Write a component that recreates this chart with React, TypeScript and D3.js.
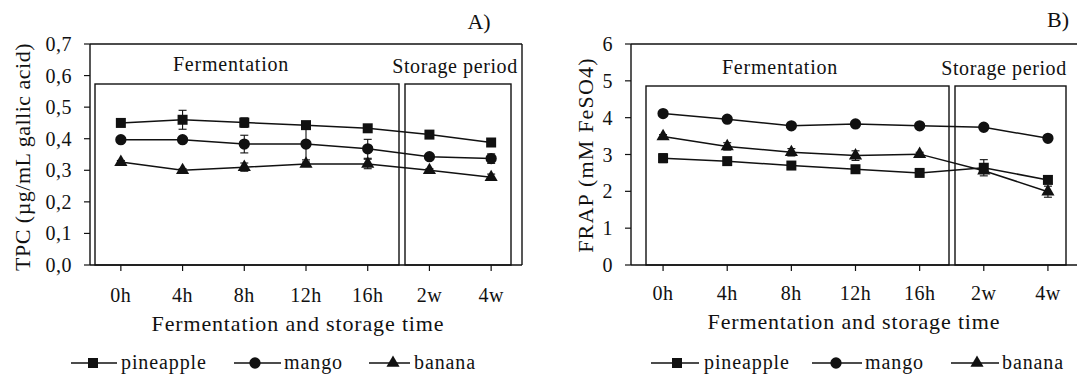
import React from "react";
import * as d3 from "d3";

// time points shared by both panels
const times = ["0h", "4h", "8h", "12h", "16h", "2w", "4w"];

// A) total phenolic content
const tpcPineapple = [0.45, 0.46, 0.451, 0.443, 0.433, 0.413, 0.388];
const tpcPineappleErr = [0.006, 0.03, 0.015, 0.01, 0.01, 0.006, 0.006];
const tpcMango = [0.397, 0.397, 0.383, 0.383, 0.368, 0.343, 0.337];
const tpcMangoErr = [0.005, 0.006, 0.028, 0.05, 0.03, 0.008, 0.015];
const tpcBanana = [0.326, 0.3, 0.31, 0.32, 0.32, 0.3, 0.278];
const tpcBananaErr = [0.005, 0.005, 0.013, 0.006, 0.015, 0.005, 0.01];
const tpcTicks = [0, 0.1, 0.2, 0.3, 0.4, 0.5, 0.6, 0.7];

// B) FRAP
const frapPineapple = [2.9, 2.82, 2.7, 2.6, 2.5, 2.64, 2.31];
const frapPineappleErr = [0.12, 0.05, 0.05, 0.05, 0.04, 0.22, 0.06];
const frapMango = [4.11, 3.96, 3.78, 3.83, 3.78, 3.74, 3.44];
const frapMangoErr = [0.04, 0.05, 0.05, 0.05, 0.04, 0.06, 0.05];
const frapBanana = [3.49, 3.22, 3.06, 2.97, 3.01, 2.56, 1.99];
const frapBananaErr = [0.05, 0.1, 0.1, 0.13, 0.05, 0.06, 0.15];
const frapTicks = [0, 1, 2, 3, 4, 5, 6];

const fruitNames = ["pineapple", "mango", "banana"];
const symbols = [d3.symbolSquare, d3.symbolCircle, d3.symbolTriangle];
const symbolSizes = [100, 100, 75];

const FONT = "Liberation Serif";
const INK = "#111";
const TOP = 44;
const BOTTOM = 265;

function Panel({ L, yMax, ticks, fmt, yLabel, tag, values, errors }) {
  const x = d3.scalePoint<string>().domain(times).range([L.x0, L.x1]).padding(0.5);
  const y = d3.scaleLinear().domain([0, yMax]).range([BOTTOM, TOP]);
  const line = d3
    .line<number>()
    .x((d, i) => x(times[i]) as number)
    .y(d => y(d));

  return (
    <g style={{ fontFamily: FONT }} fill={INK}>
      {/* frame */}
      <line x1={L.x0} x2={L.x1} y1={TOP} y2={TOP} stroke={INK} strokeWidth={1.4} />
      <line x1={L.x1} x2={L.x1} y1={TOP} y2={BOTTOM} stroke={INK} strokeWidth={1.4} />

      {/* period boxes */}
      <rect x={L.ferm[0]} y={L.boxTop} width={L.ferm[1] - L.ferm[0]} height={BOTTOM - L.boxTop}
        fill="none" stroke={INK} strokeWidth={1.4} />
      <rect x={L.stor[0]} y={L.boxTop} width={L.stor[1] - L.stor[0]} height={BOTTOM - L.boxTop}
        fill="none" stroke={INK} strokeWidth={1.4} />
      <text x={L.fermLabel[0]} y={L.fermLabel[1]} fontSize={20} letterSpacing={0.8} textAnchor="middle">Fermentation</text>
      <text x={L.storLabel[0]} y={L.storLabel[1]} fontSize={20} letterSpacing={0.6} textAnchor="middle">Storage period</text>
      <text x={L.tag[0]} y={L.tag[1]} fontSize={22} textAnchor="middle">{tag}</text>

      {/* y axis */}
      <line x1={L.x0} x2={L.x0} y1={TOP} y2={BOTTOM} stroke={INK} strokeWidth={1.4} />
      {ticks.map(t => (
        <g key={t}>
          <line x1={L.x0 - 6} x2={L.x0} y1={y(t)} y2={y(t)} stroke={INK} strokeWidth={1.2} />
          <text x={L.x0 - 18} y={y(t)} dy="0.35em" fontSize={20} letterSpacing={0.5} textAnchor="end">{fmt(t)}</text>
        </g>
      ))}
      <text transform={`translate(${L.yLabel[0]},${L.yLabel[1]}) rotate(-90)`} fontSize={22}
        letterSpacing={L.yLabelSpacing} textAnchor="middle" dy="0.35em">{yLabel}</text>

      {/* x axis */}
      <line x1={L.x0} x2={L.x1} y1={BOTTOM} y2={BOTTOM} stroke={INK} strokeWidth={1.6} />
      {times.map(t => (
        <g key={t}>
          <line x1={x(t)} x2={x(t)} y1={BOTTOM} y2={BOTTOM + 6} stroke={INK} strokeWidth={1.2} />
          <text x={x(t)} y={L.tickY} fontSize={20} letterSpacing={0.5} textAnchor="middle">{t}</text>
        </g>
      ))}
      <text x={L.xTitle[0]} y={L.xTitle[1]} fontSize={22} letterSpacing={0.85} textAnchor="middle">
        Fermentation and storage time
      </text>

      {/* error bars */}
      {values.map((vals, s) =>
        vals.map((v, i) => {
          const e = errors[s][i];
          const cx = x(times[i]) as number;
          return (
            <g key={`e${s}-${i}`} stroke={INK} strokeWidth={1.1}>
              <line x1={cx} x2={cx} y1={y(v - e)} y2={y(v + e)} />
              <line x1={cx - 4} x2={cx + 4} y1={y(v - e)} y2={y(v - e)} />
              <line x1={cx - 4} x2={cx + 4} y1={y(v + e)} y2={y(v + e)} />
            </g>
          );
        })
      )}

      {/* series */}
      {values.map((vals, s) => (
        <g key={fruitNames[s]}>
          <path d={line(vals) as string} fill="none" stroke={INK} strokeWidth={1.5} />
          {vals.map((v, i) => (
            <path key={i} transform={`translate(${x(times[i])},${y(v)})`}
              d={d3.symbol(symbols[s], symbolSizes[s])() as string} fill={INK} />
          ))}
        </g>
      ))}

      {/* legend */}
      {L.legend.map((item, s) => (
        <g key={fruitNames[s]}>
          <line x1={item[0]} x2={item[1]} y1={L.legendY} y2={L.legendY} stroke={INK} strokeWidth={1.5} />
          <path transform={`translate(${item[2]},${L.legendY})`}
            d={d3.symbol(symbols[s], symbolSizes[s])() as string} fill={INK} />
          <text x={item[3]} y={L.legendY} dy="0.3em" fontSize={20} letterSpacing={0.9}>{fruitNames[s]}</text>
        </g>
      ))}
    </g>
  );
}

const leftLayout = {
  x0: 90, x1: 522, boxTop: 84,
  ferm: [95, 399], stor: [405, 511],
  fermLabel: [231, 71], storLabel: [455, 73], tag: [479, 29],
  yLabel: [22, 157], yLabelSpacing: 0.5, xTitle: [298, 331], tickY: 302,
  legendY: 363,
  legend: [[71, 117, 93, 121], [234, 281, 255, 284], [369, 410, 393, 414]]
};

const rightLayout = {
  x0: 631, x1: 1080, boxTop: 86,
  ferm: [646, 949], stor: [955, 1066],
  fermLabel: [780, 74], storLabel: [1004, 75], tag: [1058, 27],
  yLabel: [585, 155], yLabelSpacing: 1.2, xTitle: [854, 329], tickY: 300,
  legendY: 363,
  legend: [[651, 699, 677, 704], [812, 862, 836, 865], [951, 999, 977, 1002]]
};

export default function App() {
  const comma = (v: number) => d3.format(".1f")(v).replace(".", ",");
  return (
    <svg width={1077} height={375} style={{ position: "absolute", left: 0, top: 0, background: "#fff" }}>
      <Panel L={leftLayout} yMax={0.7} ticks={tpcTicks} fmt={comma}
        yLabel="TPC (µg/mL gallic acid)" tag="A)"
        values={[tpcPineapple, tpcMango, tpcBanana]}
        errors={[tpcPineappleErr, tpcMangoErr, tpcBananaErr]} />
      <Panel L={rightLayout} yMax={6} ticks={frapTicks} fmt={d3.format("d")}
        yLabel="FRAP (mM FeSO4)" tag="B)"
        values={[frapPineapple, frapMango, frapBanana]}
        errors={[frapPineappleErr, frapMangoErr, frapBananaErr]} />
    </svg>
  );
}
